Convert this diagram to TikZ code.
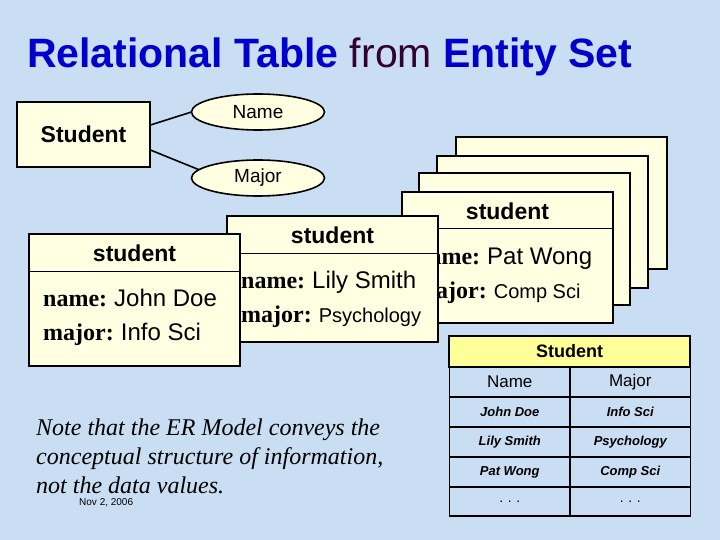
\documentclass[tikz,border=0pt]{standalone}
\usepackage{fontspec}
\setmainfont{Liberation Sans}
\newfontfamily\tnr{Liberation Serif}
\usepackage{tikz}
\usetikzlibrary{positioning, shapes.geometric}
\definecolor{slidebg}{RGB}{201, 222, 243}
\definecolor{titleblue}{RGB}{0, 0, 204}
\definecolor{titlefrom}{RGB}{51, 0, 51}
\definecolor{cardfill}{RGB}{255, 255, 226}
\definecolor{headfill}{RGB}{255, 255, 153}

\begin{document}
\begin{tikzpicture}[x=1pt, y=-1pt,
  entity/.style={draw, line width=1.6pt, fill=cardfill, minimum width=133pt,
    minimum height=65pt, outer sep=0pt, font=\fontsize{23}{26}\selectfont\bfseries},
  attr/.style={ellipse, draw, line width=1.6pt, fill=cardfill, minimum width=133pt,
    minimum height=36pt, inner sep=0pt, outer sep=0pt, font=\fontsize{19}{22}\selectfont},
  card/.style={draw, line width=2.4pt, fill=cardfill, minimum width=211pt,
    anchor=north west, outer sep=0pt},
  cell/.style={draw, line width=1.5pt, minimum width=120.5pt, minimum height=30pt,
    inner sep=0pt, outer sep=0pt}]
  \fill[slidebg] (0,0) rectangle (720,540);
  \useasboundingbox (0,0) rectangle (720,540);
  % Title
  \node[anchor=base west, inner sep=0pt, font=\fontsize{41}{46}\selectfont] (title) at (27,68)
    {\textcolor{titleblue}{\bfseries Relational Table} \textcolor{titlefrom}{from} \textcolor{titleblue}{\bfseries Entity Set}};
  % ER model: entity with two attributes
  \node[entity] (ent) at (83.5,134.5) {Student};
  \node[attr] (attname) at (258,112) {Name};
  \node[attr] (attmajor) at (258,178) {Major};
  \draw[line width=1.6pt] (ent.8) -- (attname.west);
  \draw[line width=1.6pt] (ent.-13) -- (attmajor.172);
  % Stack of entity instances (back cards)
  \foreach \k/\x/\y in {6/456/137, 5/437/156, 4/419/173}
    \node[card, minimum height=132pt] (card\k) at (\x,\y) {};
  % Front cards
  \foreach \n/\x/\y/\h/\who/\what/\fs in {3/402/192/131pt/Pat Wong/Comp Sci/20,
      2/227/216/126pt/Lily Smith/Psychology/20, 1/29/234/132pt/John Doe/Info Sci/24} {
    \node[card, minimum height=\h] (card\n) at (\x,\y) {};
    \draw[line width=1pt] ([yshift=-37pt]card\n.north west) -- ([yshift=-37pt]card\n.north east);
    \node[font=\fontsize{23}{26}\selectfont\bfseries] (cardhead\n) at ([yshift=-19pt]card\n.north) {student};
    \node[anchor=base west, inner sep=0pt, font=\fontsize{24}{28}\selectfont] (cardname\n)
      at ([xshift=14pt, yshift=-72pt]card\n.north west) {{\tnr\bfseries name:}\hspace{7pt}\who};
    \node[anchor=base west, inner sep=0pt, font=\fontsize{24}{28}\selectfont] (cardmajor\n)
      at ([xshift=14pt, yshift=-106pt]card\n.north west) {{\tnr\bfseries major:}\hspace{7pt}{\fontsize{\fs}{\fs}\selectfont\what}};
  }
  % Relational table
  \node[cell, fill=headfill, minimum width=241pt, minimum height=31pt,
        font=\fontsize{18}{21}\selectfont\bfseries] (tbltitle) at (569.5,351.5) {Student};
  \node[cell, font=\fontsize{17}{20}\selectfont] (colname) at (509.75,382) {Name};
  \node[cell, font=\fontsize{17}{20}\selectfont] (colmajor) at (630.25,382) {Major};
  \foreach \r/\y/\a/\b in {1/412/John Doe/Info Sci, 2/442/Lily Smith/Psychology, 3/472/Pat Wong/Comp Sci} {
    \node[cell, font=\fontsize{13}{16}\selectfont\bfseries\itshape] (rowname\r) at (509.75,\y) {\a};
    \node[cell, font=\fontsize{13}{16}\selectfont\bfseries\itshape] (rowmajor\r) at (630.25,\y) {\b};
  }
  \node[cell, minimum height=29pt, font=\fontsize{14}{16}\selectfont] (rowname4) at (509.75,501.5) {.\,\,.\,\,.};
  \node[cell, minimum height=29pt, font=\fontsize{14}{16}\selectfont] (rowmajor4) at (630.25,501.5) {.\,\,.\,\,.};
  % Note
  \node[anchor=north west, align=left, inner sep=0pt,
        font=\tnr\itshape\fontsize{24}{29}\selectfont] (note) at (36,418.5)
    {Note that the ER Model conveys the\\conceptual structure of information,\\not the data values.};
  \node[anchor=base west, inner sep=0pt, font=\fontsize{10}{12}\selectfont] (date) at (79,505) {Nov 2, 2006};
\end{tikzpicture}
\end{document}
